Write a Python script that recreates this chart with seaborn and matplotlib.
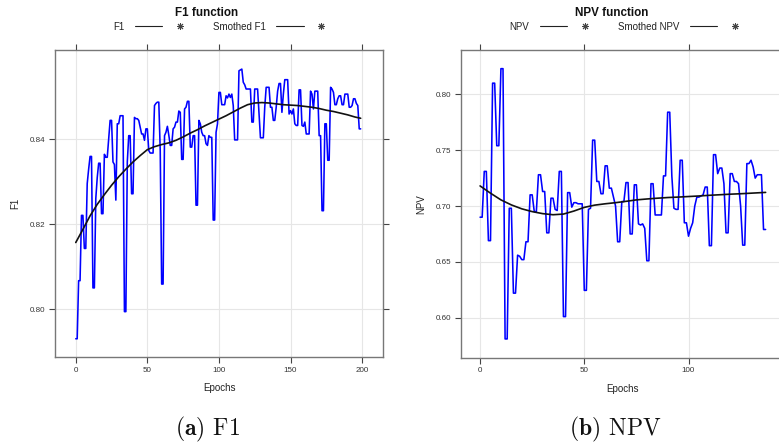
import numpy as np
import pandas as pd
import matplotlib
matplotlib.use("Agg")
import matplotlib.pyplot as plt
from matplotlib.lines import Line2D
from matplotlib.legend_handler import HandlerTuple
import seaborn as sns

# ---------------- data ----------------
f1_values = [
    0.793, 0.793, 0.8067, 0.8067, 0.8221, 0.8221, 0.8143, 0.8143, 0.8296, 0.833,
    0.836, 0.836, 0.805, 0.805, 0.8261, 0.831, 0.8344, 0.8344, 0.8225, 0.8225,
    0.8365, 0.8358, 0.8358, 0.840, 0.8445, 0.8445, 0.8347, 0.8341, 0.8257, 0.8437,
    0.8437, 0.8456, 0.8456, 0.8456, 0.7994, 0.7994, 0.8347, 0.8409, 0.8409, 0.8272,
    0.8272, 0.8452, 0.8449, 0.8449, 0.8445, 0.8429, 0.8413, 0.8413, 0.8398, 0.8425,
    0.8425, 0.8374, 0.8368, 0.8368, 0.8368, 0.848, 0.8485, 0.8488, 0.8488, 0.8374,
    0.8059, 0.8059, 0.8409, 0.8417, 0.8431, 0.841, 0.8386, 0.8386, 0.8425, 0.8429,
    0.8441, 0.8441, 0.8467, 0.8464, 0.8353, 0.8353, 0.8472, 0.8476, 0.849, 0.849,
    0.8382, 0.8382, 0.8409, 0.8409, 0.8245, 0.8245, 0.8445, 0.8437, 0.8417, 0.8409,
    0.8409, 0.839, 0.8386, 0.8409, 0.8405, 0.8405, 0.821, 0.821, 0.8417, 0.8437,
    0.8511, 0.8511, 0.8482, 0.8482, 0.8482, 0.8503, 0.8498, 0.8507, 0.8499, 0.8507,
    0.848, 0.8399, 0.8399, 0.8399, 0.8562, 0.8564, 0.8566, 0.8535, 0.8529, 0.8519,
    0.8519, 0.8519, 0.8519, 0.8441, 0.8441, 0.8519, 0.8519, 0.8519, 0.846, 0.8404,
    0.8404, 0.8404, 0.8476, 0.8523, 0.8523, 0.8523, 0.8476, 0.8476, 0.8445, 0.8445,
    0.8476, 0.8514, 0.8532, 0.8532, 0.8464, 0.8507, 0.8541, 0.8541, 0.8541, 0.846,
    0.8468, 0.846, 0.8472, 0.8437, 0.8433, 0.8433, 0.8517, 0.8517, 0.8433, 0.8431,
    0.8441, 0.8413, 0.8413, 0.8413, 0.8514, 0.8507, 0.8472, 0.8514, 0.8514, 0.8514,
    0.8409, 0.8409, 0.8232, 0.8232, 0.8437, 0.8437, 0.8351, 0.8351, 0.8523, 0.8519,
    0.8511, 0.8482, 0.8482, 0.8496, 0.8503, 0.8503, 0.8482, 0.8482, 0.8507, 0.8507,
    0.8507, 0.8476, 0.8476, 0.848, 0.8496, 0.8496, 0.8485, 0.848, 0.8425, 0.8425,
]

f1_smooth_epochs = [0, 5, 10, 15, 20, 25, 30, 35, 40, 45, 50, 55, 60, 65, 70, 75, 80,
                    85, 90, 95, 100, 105, 110, 115, 120, 125, 130, 135, 140, 145,
                    150, 155, 160, 165, 170, 175, 180, 185, 190, 195, 199]
f1_smooth_values = [0.8157, 0.8188, 0.8220, 0.8247, 0.8270, 0.8292, 0.8312, 0.8330,
                    0.8347, 0.8362, 0.8376, 0.8383, 0.8388, 0.8392, 0.8398, 0.8406,
                    0.8415, 0.8423, 0.8432, 0.8440, 0.8448, 0.8456, 0.8465, 0.8474,
                    0.8482, 0.8486, 0.8487, 0.8486, 0.8484, 0.8482, 0.8481, 0.8480,
                    0.8478, 0.8476, 0.8473, 0.8469, 0.8466, 0.8462, 0.8458, 0.8453,
                    0.8450]

npv_values = [
    0.690, 0.690, 0.731, 0.731, 0.669, 0.669, 0.810, 0.810, 0.754, 0.754,
    0.823, 0.823, 0.581, 0.581, 0.698, 0.698, 0.622, 0.622, 0.656, 0.655,
    0.652, 0.652, 0.668, 0.668, 0.710, 0.710, 0.695, 0.695, 0.728, 0.728,
    0.713, 0.713, 0.676, 0.676, 0.707, 0.707, 0.697, 0.696, 0.731, 0.731,
    0.601, 0.601, 0.712, 0.712, 0.699, 0.703, 0.703, 0.702, 0.702, 0.702,
    0.6245, 0.6245, 0.697, 0.698, 0.759, 0.759, 0.722, 0.722, 0.711, 0.711,
    0.736, 0.736, 0.716, 0.716, 0.708, 0.700, 0.668, 0.668, 0.704, 0.704,
    0.721, 0.721, 0.675, 0.675, 0.719, 0.719, 0.684, 0.683, 0.684, 0.680,
    0.651, 0.651, 0.720, 0.720, 0.692, 0.692, 0.692, 0.692, 0.727, 0.727,
    0.784, 0.784, 0.727, 0.698, 0.697, 0.697, 0.741, 0.741, 0.685, 0.685,
    0.673, 0.680, 0.685, 0.700, 0.708, 0.708, 0.709, 0.710, 0.717, 0.717,
    0.6645, 0.6645, 0.746, 0.746, 0.729, 0.734, 0.734, 0.720, 0.676, 0.676,
    0.729, 0.729, 0.722, 0.722, 0.720, 0.700, 0.665, 0.665, 0.738, 0.738,
    0.741, 0.735, 0.725, 0.728, 0.728, 0.728, 0.679, 0.679,
]

npv_smooth_epochs = [0, 5, 10, 15, 20, 25, 30, 35, 40, 45, 50, 55, 60, 65, 70, 75,
                     80, 85, 90, 95, 100, 105, 110, 115, 120, 125, 130, 135, 137]
npv_smooth_values = [0.7180, 0.7115, 0.7055, 0.7010, 0.6975, 0.6950, 0.6932, 0.6922,
                     0.6928, 0.6955, 0.6988, 0.7008, 0.7020, 0.7030, 0.7042, 0.7055,
                     0.7063, 0.7070, 0.7076, 0.7080, 0.7085, 0.7090, 0.7096, 0.7101,
                     0.7106, 0.7110, 0.7115, 0.7120, 0.7122]

f1_yticks = [0.80, 0.82, 0.84]
f1_xticks = [0, 50, 100, 150, 200]
npv_yticks = [0.60, 0.65, 0.70, 0.75, 0.80]
npv_xticks = [0, 50, 100]

# ---------------- style ----------------
sns.set_theme(style="whitegrid")
plt.rcParams['font.family'] = ['Liberation Sans', 'DejaVu Sans']
plt.rcParams['mathtext.fontset'] = 'cm'

W, H = 779, 444
fig = plt.figure(figsize=(W / 100, H / 100), dpi=100)
fig.patch.set_facecolor('white')


def px_axes(l, t, r, b):
    return fig.add_axes([l / W, 1 - b / H, (r - l) / W, (b - t) / H])


ax1 = px_axes(55, 50, 383, 357)
ax2 = px_axes(460.7, 50, 785, 357.7)

df1 = pd.DataFrame({"Epochs": np.arange(len(f1_values)), "F1": f1_values})
dfs1 = pd.DataFrame({"Epochs": f1_smooth_epochs, "F1": f1_smooth_values})
df2 = pd.DataFrame({"Epochs": np.arange(len(npv_values)), "NPV": npv_values})
dfs2 = pd.DataFrame({"Epochs": npv_smooth_epochs, "NPV": npv_smooth_values})

panels = [
    (ax1, df1, dfs1, "F1", (-14.5, 214.6), (0.7887, 0.8611), f1_xticks, f1_yticks,
     "F1 function", "Smothed F1", 207, 224),
    (ax2, df2, dfs2, "NPV", (-9.3, 146.3), (0.5642, 0.8397), npv_xticks, npv_yticks,
     "NPV function", "Smothed NPV", 612, 629),
]

for ax, d, ds, col, xl, yl, xt, yt, title, slabel, tcx, lcx in panels:
    ax.set_facecolor('white')
    sns.lineplot(data=d, x="Epochs", y=col, ax=ax, color='#0000FF', lw=1.15,
                 estimator=None, sort=False)
    sns.lineplot(data=ds, x="Epochs", y=col, ax=ax, color='#111111', lw=1.2,
                 estimator=None, sort=False)
    ax.set_xlim(*xl)
    ax.set_ylim(*yl)
    ax.set_xticks(xt)
    ax.set_yticks(yt)
    ax.set_yticklabels([f"{v:.2f}" for v in yt])
    ax.grid(True, color='#e6e6e6', lw=0.8)
    for s in ax.spines.values():
        s.set_visible(True)
        s.set_color('#777777')
        s.set_linewidth(1.0)
    ax.tick_params(axis='both', which='both', direction='out', length=4, width=0.8,
                   color='#444444', labelsize=5.8, labelcolor='#333333', pad=3,
                   top=True, right=True, bottom=True, left=True,
                   labeltop=False, labelright=False)
    ax.set_xlabel("Epochs", fontsize=7, color='#222222')
    ax.set_ylabel(col, fontsize=7, color='#222222')
    ax.xaxis.set_label_coords(0.5, -0.085)
    ax.yaxis.set_label_coords(-0.105, 0.5)

    fig.text(tcx / W, 1 - 13 / H, title, ha='center', va='center',
             fontsize=8.4, fontweight='bold', color='#111111')

    h_line = Line2D([], [], color='#222222', lw=0.8)
    h_mark = Line2D([], [], ls='none', marker=(8, 2, 0), ms=5, mew=0.7, color='#444444')
    ax.legend([(h_line, h_mark), (h_line, h_mark)], [col, slabel],
              handler_map={tuple: HandlerTuple(ndivide=None, pad=0.4)},
              loc='center', bbox_to_anchor=(lcx / W, 1 - 26.5 / H),
              bbox_transform=fig.transFigure, ncol=2, frameon=False,
              markerfirst=False, fontsize=7, handlelength=6.0, handletextpad=1.1,
              columnspacing=2.0, borderpad=0, labelcolor='#222222')

fig.text(207.5 / W, 1 - 429 / H, r"$\mathbf{(a)}$ F1", ha='center', va='center',
         fontsize=17, family='cmr10', color='#111111')
fig.text(615 / W, 1 - 429 / H, r"$\mathbf{(b)}$ NPV", ha='center', va='center',
         fontsize=17, family='cmr10', color='#111111')

fig.savefig("out.png", dpi=100, facecolor='white')
